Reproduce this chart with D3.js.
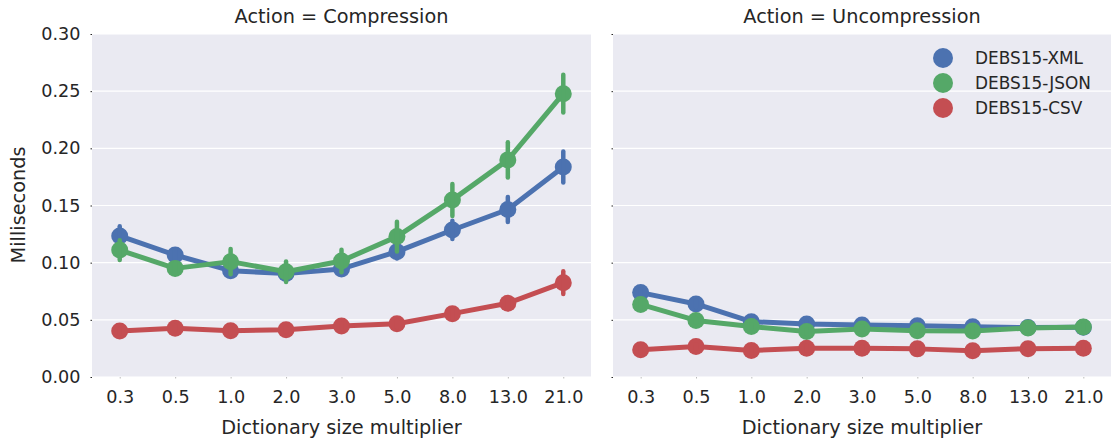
<!DOCTYPE html>
<html>
<head>
<meta charset="utf-8">
<script src="https://cdn.jsdelivr.net/npm/d3@7"></script>
<style>
  html, body { margin: 0; padding: 0; background: #ffffff; }
  svg { display: block; font-family: "DejaVu Sans", sans-serif; }
</style>
</head>
<body>
<svg id="chart" width="1111" height="444"></svg>
<script>
// Dictionary size multipliers on the x axis
const categories = ["0.3", "0.5", "1.0", "2.0", "3.0", "5.0", "8.0", "13.0", "21.0"];
const seriesNames = ["DEBS15-XML", "DEBS15-JSON", "DEBS15-CSV"];
const panelTitles = ["Action = Compression", "Action = Uncompression"];
const yTicks = [0.00, 0.05, 0.10, 0.15, 0.20, 0.25, 0.30];

// Mean time (ms) per format, compression
const compXml  = [0.1234, 0.1067, 0.0930, 0.0905, 0.0945, 0.1096, 0.1286, 0.1465, 0.1837];
const compJson = [0.1110, 0.0950, 0.1009, 0.0921, 0.1015, 0.1228, 0.1549, 0.1899, 0.2478];
const compCsv  = [0.0402, 0.0426, 0.0405, 0.0414, 0.0446, 0.0466, 0.0554, 0.0645, 0.0825];
// Confidence half-widths, compression
const compXmlErr  = [0.0085, 0.005, 0.004, 0.003, 0.004, 0.006, 0.008, 0.011, 0.0135];
const compJsonErr = [0.0087, 0.005, 0.011, 0.009, 0.0098, 0.013, 0.014, 0.0155, 0.0165];
const compCsvErr  = [0.002, 0.002, 0.002, 0.002, 0.002, 0.003, 0.004, 0.005, 0.010];

// Mean time (ms) per format, uncompression
const uncXml  = [0.0738, 0.0639, 0.0484, 0.0464, 0.0455, 0.0449, 0.0440, 0.0432, 0.0436];
const uncJson = [0.0635, 0.0495, 0.0442, 0.0397, 0.0420, 0.0405, 0.0402, 0.0428, 0.0437];
const uncCsv  = [0.0238, 0.0266, 0.0232, 0.0251, 0.0251, 0.0246, 0.0229, 0.0248, 0.0252];
// Confidence half-widths, uncompression
const uncXmlErr  = [0.003, 0.003, 0.002, 0.002, 0.002, 0.002, 0.002, 0.002, 0.002];
const uncJsonErr = [0.003, 0.002, 0.002, 0.002, 0.002, 0.002, 0.002, 0.002, 0.002];
const uncCsvErr  = [0.002, 0.002, 0.002, 0.002, 0.002, 0.002, 0.002, 0.002, 0.002];

const colors = ["#4C72B0", "#55A868", "#C44E52"];
const textColor = "#262626";

const panels = [
  { title: panelTitles[0], x0: 92, x1: 591,
    series: [[compXml, compXmlErr], [compJson, compJsonErr], [compCsv, compCsvErr]] },
  { title: panelTitles[1], x0: 613, x1: 1111,
    series: [[uncXml, uncXmlErr], [uncJson, uncJsonErr], [uncCsv, uncCsvErr]] }
];

const plotTop = 34, plotBottom = 377;
const svg = d3.select("#chart");
const y = d3.scaleLinear().domain([0, 0.30]).range([plotBottom, plotTop]);

panels.forEach((p, pi) => {
  const x = d3.scalePoint().domain(categories).range([p.x0, p.x1]).padding(0.5);
  const g = svg.append("g");

  // background and horizontal grid
  g.append("rect").attr("x", p.x0).attr("y", plotTop)
    .attr("width", p.x1 - p.x0).attr("height", plotBottom - plotTop).attr("fill", "#EAEAF2");
  g.selectAll(".grid").data(yTicks).join("line")
    .attr("x1", p.x0).attr("x2", p.x1)
    .attr("y1", d => y(d)).attr("y2", d => y(d))
    .attr("stroke", "#ffffff").attr("stroke-width", 1.2);

  // y axis (labels on the first panel only)
  const yAxis = d3.axisLeft(y).tickValues(yTicks).tickSize(1.5).tickPadding(10)
    .tickFormat(pi === 0 ? d3.format(".2f") : () => "");
  const ya = g.append("g").attr("transform", `translate(${p.x0},0)`).call(yAxis);
  ya.select(".domain").remove();
  ya.selectAll(".tick line").attr("stroke", textColor);
  ya.selectAll("text").attr("fill", textColor).style("font-size", "17.6px")
    .style("font-family", "DejaVu Sans");

  // x axis
  const xAxis = d3.axisBottom(x).tickSize(1.5).tickPadding(12);
  const xa = g.append("g").attr("transform", `translate(0,${plotBottom})`).call(xAxis);
  xa.select(".domain").remove();
  xa.selectAll(".tick line").attr("stroke", "#bbbbbb");
  xa.selectAll("text").attr("fill", textColor).style("font-size", "17.6px")
    .style("font-family", "DejaVu Sans");

  // panel title and x label
  g.append("text").attr("x", (p.x0 + p.x1) / 2).attr("y", 23)
    .attr("text-anchor", "middle").attr("fill", textColor)
    .style("font-size", "19.3px").text(p.title);
  g.append("text").attr("x", (p.x0 + p.x1) / 2).attr("y", 434)
    .attr("text-anchor", "middle").attr("fill", textColor)
    .style("font-size", "19.3px").text("Dictionary size multiplier");

  // each series: connecting line, markers, error bars
  p.series.forEach(([vals, errs], si) => {
    const pts = categories.map((c, i) => ({ c, v: vals[i], e: errs[i] }));
    const sg = g.append("g");
    sg.append("path").datum(pts)
      .attr("d", d3.line().x(d => x(d.c)).y(d => y(d.v)))
      .attr("fill", "none").attr("stroke", colors[si])
      .attr("stroke-width", 5).attr("stroke-linejoin", "round");
    sg.selectAll("circle").data(pts).join("circle")
      .attr("cx", d => x(d.c)).attr("cy", d => y(d.v)).attr("r", 8.5)
      .attr("fill", colors[si]);
    sg.selectAll(".err").data(pts).join("line")
      .attr("x1", d => x(d.c)).attr("x2", d => x(d.c))
      .attr("y1", d => y(d.v - d.e)).attr("y2", d => y(d.v + d.e))
      .attr("stroke", colors[si]).attr("stroke-width", 4.5)
      .attr("stroke-linecap", "round");
  });
});

// y axis label
svg.append("text").attr("transform", "translate(25,205) rotate(-90)")
  .attr("text-anchor", "middle").attr("fill", textColor)
  .style("font-size", "19.3px").text("Milliseconds");

// legend inside the right panel
const legend = svg.append("g");
seriesNames.forEach((name, i) => {
  const ly = 58 + i * 25;
  legend.append("circle").attr("cx", 943).attr("cy", ly).attr("r", 10).attr("fill", colors[i]);
  legend.append("text").attr("x", 975).attr("y", ly).attr("dy", "0.35em")
    .attr("fill", textColor).style("font-size", "16.9px").text(name);
});
</script>
</body>
</html>
